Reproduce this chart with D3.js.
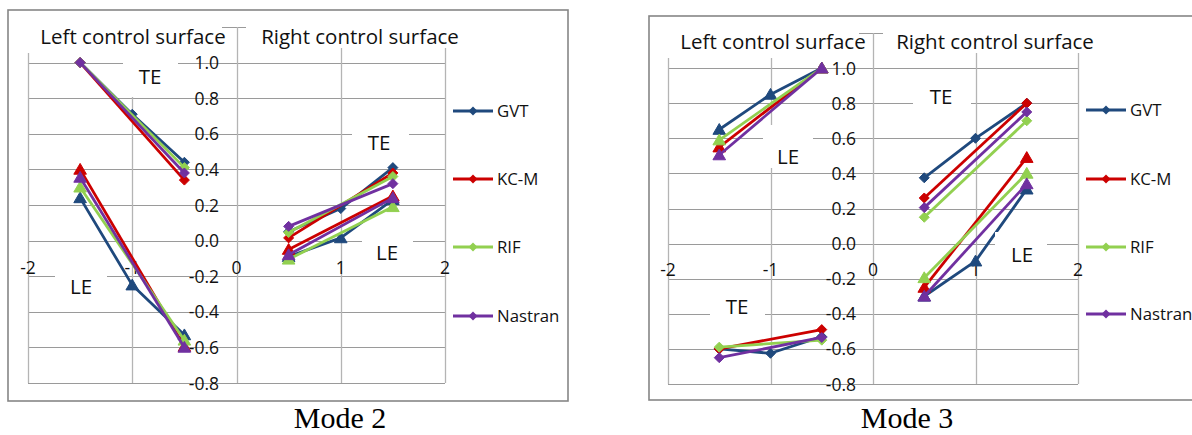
<!DOCTYPE html>
<html>
<head>
<meta charset="utf-8">
<script src="https://cdn.jsdelivr.net/npm/d3@7/dist/d3.min.js"></script>
<style>
  html, body { margin: 0; padding: 0; background: #fff; }
  svg { display: block; }
  .lbl { font-family: "Open Sans", Lato, sans-serif; fill: #111; }
</style>
</head>
<body>
<svg id="fig" width="1192" height="435"></svg>
<script>
// Modal deflections of the left / right control surfaces
const seriesNames = ["GVT", "KC-M", "RIF", "Nastran"];
const seriesColors = ["#1F497D", "#CC0000", "#92D050", "#7030A0"];
const xLeft = [-1.5, -1, -0.5];
const xRight = [0.5, 1, 1.5];
const xTicks = [-2, -1, 0, 1, 2];
const yTicks = [-0.8, -0.6, -0.4, -0.2, 0.0, 0.2, 0.4, 0.6, 0.8, 1.0];
const yGrid = [-0.8, -0.6, -0.4, -0.2, 0.0, 0.2, 0.4, 0.6, 0.8, 1.0, 1.2];

// Mode 2 (one row per series: GVT, KC-M, RIF, Nastran; null = no point)
const mode2LeftTE  = [[1.0, 0.71, 0.44], [1.0, null, 0.34], [1.0, null, 0.41], [1.0, null, 0.38]];
const mode2LeftLE  = [[0.24, -0.25, -0.53], [0.40, null, -0.595], [0.30, null, -0.56], [0.355, null, -0.60]];
const mode2RightTE = [[0.05, 0.18, 0.41], [0.015, null, 0.38], [0.045, null, 0.36], [0.08, null, 0.32]];
const mode2RightLE = [[-0.09, 0.015, 0.23], [-0.05, null, 0.25], [-0.105, null, 0.19], [-0.08, null, 0.24]];

// Mode 3
const mode3LeftLE  = [[0.65, 0.85, 1.0], [0.55, null, 1.0], [0.59, null, 1.0], [0.505, null, 1.0]];
const mode3LeftTE  = [[-0.60, -0.625, -0.53], [-0.60, null, -0.49], [-0.59, null, -0.55], [-0.65, null, -0.535]];
const mode3RightTE = [[0.375, 0.60, 0.80], [0.26, null, 0.80], [0.15, null, 0.70], [0.205, null, 0.75]];
const mode3RightLE = [[-0.30, -0.10, 0.31], [-0.25, null, 0.49], [-0.195, null, 0.40], [-0.30, null, 0.34]];

const svg = d3.select("#fig");

function diamondPath(r) {
  return `M0,${-r}L${r},0L0,${r}L${-r},0Z`;
}
function trianglePath(r) {
  return `M0,${-r}L${r * 1.05},${r * 0.8}L${-r * 1.05},${r * 0.8}Z`;
}

function drawChart(cfg) {
  const g = svg.append("g");
  const x = d3.scaleLinear().domain([-2, 2]).range(cfg.xRange);
  const y = d3.scaleLinear().domain([-0.8, 1.2]).range(cfg.yRange);

  // outer frame
  g.append("rect")
    .attr("x", cfg.frame[0]).attr("y", cfg.frame[1])
    .attr("width", cfg.frame[2]).attr("height", cfg.frame[3])
    .attr("fill", "#fff").attr("stroke", "#868686").attr("stroke-width", 1.6);

  // gridlines
  g.append("g").selectAll("line").data(yGrid).join("line")
    .attr("x1", x(-2)).attr("x2", x(2))
    .attr("y1", d => Math.round(y(d)) + 0.5).attr("y2", d => Math.round(y(d)) + 0.5)
    .attr("stroke", "#9a9a9a").attr("stroke-width", 1);
  g.append("g").selectAll("line").data(xTicks).join("line")
    .attr("x1", d => Math.round(x(d)) + 0.5).attr("x2", d => Math.round(x(d)) + 0.5)
    .attr("y1", y(1.2)).attr("y2", y(-0.8))
    .attr("stroke", "#b4b4b4").attr("stroke-width", 1.3);

  // y tick labels (hyphen as minus sign)
  g.append("g").selectAll("text").data(yTicks).join("text")
    .attr("class", "lbl")
    .attr("x", cfg.yLabelX).attr("y", d => y(d) + 6.5)
    .attr("text-anchor", "end").attr("font-size", 17.5)
    .text(d => d.toFixed(1));

  // x tick labels
  g.append("g").selectAll("text").data(xTicks).join("text")
    .attr("class", "lbl")
    .attr("x", d => x(d)).attr("y", cfg.xLabelY)
    .attr("text-anchor", "middle").attr("font-size", 17.5)
    .text(d => String(d));

  // series lines and markers
  const line = d3.line().x(d => x(d[0])).y(d => y(d[1]));
  cfg.groups.forEach(grp => {
    seriesNames.forEach((name, si) => {
      const pts = grp.xs.map((xv, i) => [xv, grp.values[si][i]]).filter(p => p[1] !== null);
      const sg = g.append("g");
      sg.append("path").attr("d", line(pts))
        .attr("fill", "none").attr("stroke", seriesColors[si])
        .attr("stroke-width", 2.8).attr("stroke-linejoin", "round");
      sg.selectAll("path.m").data(pts).join("path")
        .attr("class", "m")
        .attr("transform", d => `translate(${x(d[0])},${y(d[1])})`)
        .attr("d", grp.marker === "diamond" ? diamondPath(5) : trianglePath(6))
        .attr("fill", seriesColors[si]).attr("stroke", seriesColors[si]).attr("stroke-width", 1);
    });
  });

  // white text boxes with the surface / edge labels
  cfg.boxes.forEach(b => {
    g.append("rect").attr("x", b.x0).attr("y", b.y0)
      .attr("width", b.x1 - b.x0).attr("height", b.y1 - b.y0).attr("fill", "#fff");
    g.append("text").attr("class", "lbl")
      .attr("x", b.tx).attr("y", b.ty)
      .attr("text-anchor", b.anchor || "middle")
      .attr("font-size", b.size).text(b.text);
  });

  // legend
  const lg = g.append("g").attr("transform", `translate(${cfg.legendX},0)`);
  seriesNames.forEach((name, si) => {
    const ly = cfg.legendY[si];
    lg.append("line").attr("x1", 0).attr("x2", 40).attr("y1", ly).attr("y2", ly)
      .attr("stroke", seriesColors[si]).attr("stroke-width", 2.8);
    lg.append("path").attr("transform", `translate(20,${ly})`).attr("d", diamondPath(4.5))
      .attr("fill", seriesColors[si]);
    lg.append("text").attr("class", "lbl").attr("x", 44).attr("y", ly + 6)
      .attr("font-size", 16.8).text(name);
  });

  // caption below the frame
  svg.append("text").attr("x", cfg.captionX).attr("y", 428)
    .attr("text-anchor", "middle")
    .attr("font-family", "'Liberation Serif', 'Times New Roman', serif")
    .attr("font-size", 30).attr("fill", "#000").text(cfg.caption);
}

drawChart({
  frame: [8, 10, 560, 391],
  xRange: [28, 445],
  yRange: [383, 27],
  yLabelX: 219,
  xLabelY: 274,
  legendX: 453,
  legendY: [111, 179, 247, 316],
  captionX: 340,
  caption: "Mode 2",
  groups: [
    { xs: xLeft, values: mode2LeftTE, marker: "diamond" },
    { xs: xLeft, values: mode2LeftLE, marker: "triangle" },
    { xs: xRight, values: mode2RightTE, marker: "diamond" },
    { xs: xRight, values: mode2RightLE, marker: "triangle" }
  ],
  boxes: [
    { x0: 20, x1: 222, y0: 14, y1: 53, tx: 133, ty: 44, size: 20.5, text: "Left control surface" },
    { x0: 246, x1: 457, y0: 14, y1: 48, tx: 360, ty: 44, size: 20.5, text: "Right control surface" },
    { x0: 123, x1: 178, y0: 50, y1: 97, tx: 150, ty: 84, size: 20.5, text: "TE" },
    { x0: 55, x1: 107, y0: 262, y1: 305, tx: 81, ty: 294, size: 20.5, text: "LE" },
    { x0: 352, x1: 409, y0: 120, y1: 156, tx: 379, ty: 150, size: 20.5, text: "TE" },
    { x0: 362, x1: 413, y0: 230, y1: 268, tx: 387, ty: 260, size: 20.5, text: "LE" }
  ]
});

drawChart({
  frame: [649, 16, 600, 384],
  xRange: [668, 1078],
  yRange: [384, 33],
  yLabelX: 856,
  xLabelY: 276,
  legendX: 1086,
  legendY: [110, 179, 247, 314],
  captionX: 907,
  caption: "Mode 3",
  groups: [
    { xs: xLeft, values: mode3LeftLE, marker: "triangle" },
    { xs: xLeft, values: mode3LeftTE, marker: "diamond" },
    { xs: xRight, values: mode3RightTE, marker: "diamond" },
    { xs: xRight, values: mode3RightLE, marker: "triangle" }
  ],
  boxes: [
    { x0: 662, x1: 859, y0: 20, y1: 58, tx: 773, ty: 49, size: 20.5, text: "Left control surface" },
    { x0: 883, x1: 1097, y0: 20, y1: 53, tx: 995, ty: 49, size: 20.5, text: "Right control surface" },
    { x0: 763, x1: 813, y0: 125, y1: 168, tx: 788, ty: 164, size: 20.5, text: "LE" },
    { x0: 710, x1: 765, y0: 295, y1: 330, tx: 737, ty: 314, size: 20.5, text: "TE" },
    { x0: 913, x1: 971, y0: 82, y1: 118, tx: 941, ty: 104, size: 20.5, text: "TE" },
    { x0: 995, x1: 1047, y0: 232, y1: 270, tx: 1022, ty: 262, size: 20.5, text: "LE" }
  ]
});
</script>
</body>
</html>
